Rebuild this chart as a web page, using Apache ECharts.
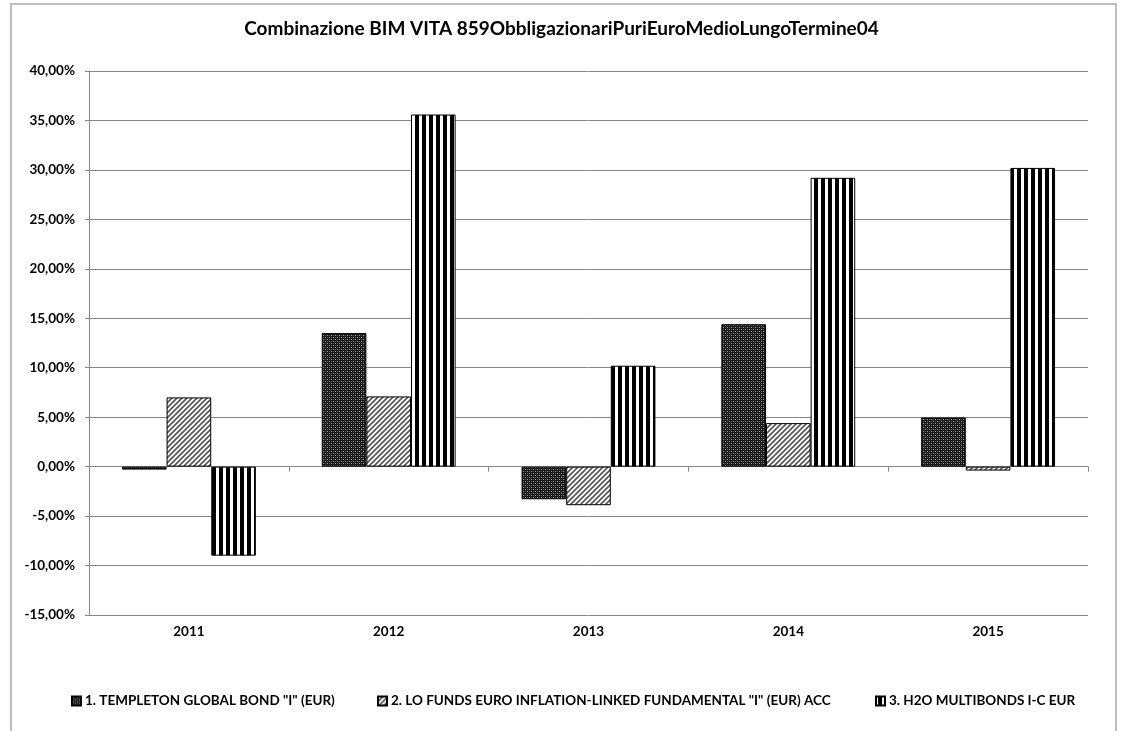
<!DOCTYPE html>
<html>
<head>
<meta charset="utf-8">
<script src="https://cdn.jsdelivr.net/npm/echarts@6/dist/echarts.min.js"></script>
<style>html,body{margin:0;padding:0;background:#fff}#c{width:1123px;height:731px}</style>
</head>
<body>
<div id="c"></div>
<script>
const categories = ['2011', '2012', '2013', '2014', '2015'];
const seriesNames = [
  '1. TEMPLETON GLOBAL BOND "I" (EUR)',
  '2. LO FUNDS EURO INFLATION-LINKED FUNDAMENTAL "I" (EUR) ACC',
  '3. H2O MULTIBONDS I-C EUR'
];
const templeton = [-0.3, 13.5, -3.3, 14.4, 4.97];
const loFunds = [7.0, 7.1, -3.9, 4.4, -0.4];
const h2o = [-9.0, 35.6, 10.2, 29.2, 30.2];
const yTicks = { min: -15, max: 40, interval: 5 };

function makePattern(kind) {
  const c = document.createElement('canvas');
  const ctx = c.getContext('2d');
  if (kind === 'dots') {
    c.width = 4; c.height = 4;
    ctx.fillStyle = '#1a1a1a'; ctx.fillRect(0, 0, 4, 4);
    ctx.fillStyle = '#9a9a9a';
    ctx.fillRect(1, 1, 1, 1); ctx.fillRect(3, 3, 1, 1);
    ctx.fillStyle = '#555';
    ctx.fillRect(3, 1, 1, 1); ctx.fillRect(1, 3, 1, 1);
  } else if (kind === 'diag') {
    c.width = 5; c.height = 5;
    ctx.fillStyle = '#fff'; ctx.fillRect(0, 0, 5, 5);
    ctx.strokeStyle = '#555'; ctx.lineWidth = 1.6;
    ctx.beginPath();
    ctx.moveTo(-1, 6); ctx.lineTo(6, -1);
    ctx.moveTo(-1, 1); ctx.lineTo(1, -1);
    ctx.moveTo(4, 6); ctx.lineTo(6, 4);
    ctx.stroke();
  } else {
    c.width = 7; c.height = 4;
    ctx.fillStyle = '#fff'; ctx.fillRect(0, 0, 7, 4);
    ctx.fillStyle = '#000'; ctx.fillRect(2, 0, 4, 4);
  }
  return { image: c, repeat: 'repeat' };
}

const pats = [makePattern('dots'), makePattern('diag'), makePattern('stripes')];
const font = 'Lato';
const chart = echarts.init(document.getElementById('c'), null, { renderer: 'canvas' });

const fmt = v => v.toFixed(2).replace('.', ',') + '%';

function mkSeries(name, data, i) {
  return {
    name: name, type: 'bar', data: data, xAxisIndex: 0,
    barGap: '0%', barCategoryGap: '33%',
    itemStyle: { color: pats[i], borderColor: '#000', borderWidth: 1 },
    emphasis: { disabled: true }
  };
}

const legendBase = {
  itemWidth: 9, itemHeight: 9, top: 689,
  textStyle: { fontFamily: font, fontWeight: 'bold', fontSize: 13.5, color: '#000', padding: [0, 0, 0, -1] },
  itemGap: 4
};

chart.setOption({
  animation: false,
  backgroundColor: '#fff',
  title: {
    text: 'Combinazione BIM VITA 859ObbligazionariPuriEuroMedioLungoTermine04',
    left: 'center', top: 14,
    textStyle: { fontFamily: font, fontWeight: 'bold', fontSize: 19, color: '#000' }
  },
  legend: [
    Object.assign({}, legendBase, { left: 66, data: [{ name: seriesNames[0], icon: 'rect' }] }),
    Object.assign({}, legendBase, { left: 372, data: [{ name: seriesNames[1], icon: 'rect' }] }),
    Object.assign({}, legendBase, { left: 870, data: [{ name: seriesNames[2], icon: 'rect' }] })
  ],
  graphic: [{
    type: 'rect', shape: { x: 11, y: 4, width: 1105, height: 760 },
    style: { fill: 'none', stroke: '#bdbdbd', lineWidth: 2 }, silent: true, z: -1
  }],
  grid: { left: 89, right: 35, top: 71, bottom: 116, containLabel: false },
  xAxis: [{
    type: 'category', data: categories,
    axisLine: { onZero: true, lineStyle: { color: '#868686', width: 1 } },
    axisTick: { show: true, alignWithLabel: false, length: 5, inside: false, lineStyle: { color: '#868686' } },
    axisLabel: { show: false }
  }, {
    type: 'category', data: categories, position: 'bottom',
    axisLine: { show: false, onZero: false }, axisTick: { show: false },
    axisLabel: { margin: 10, fontFamily: font, fontWeight: 'bold', fontSize: 13.5, color: '#000' }
  }],
  yAxis: {
    type: 'value', min: yTicks.min, max: yTicks.max, interval: yTicks.interval,
    axisLine: { show: true, lineStyle: { color: '#868686' } },
    axisTick: { show: true, length: 4, lineStyle: { color: '#868686' } },
    splitLine: { show: true, lineStyle: { color: '#868686', width: 1 } },
    axisLabel: { formatter: fmt, margin: 14, fontFamily: font, fontWeight: 'bold', fontSize: 13.5, color: '#000' }
  },
  series: [
    mkSeries(seriesNames[0], templeton, 0),
    mkSeries(seriesNames[1], loFunds, 1),
    mkSeries(seriesNames[2], h2o, 2)
  ]
});
</script>
</body>
</html>
